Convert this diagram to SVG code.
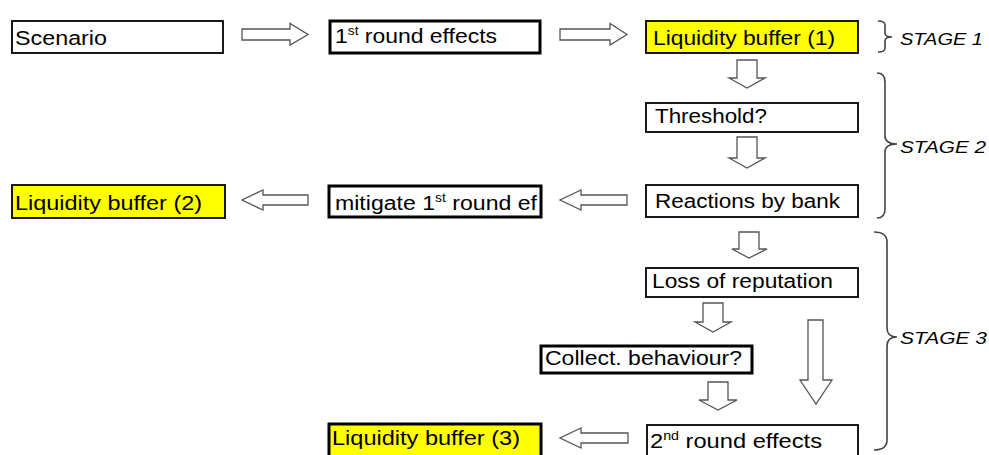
<svg xmlns="http://www.w3.org/2000/svg" width="989" height="455" viewBox="0 0 989 455">
<style>
.box{fill:#fff;stroke:#000;stroke-width:1.8}
.thick{stroke-width:3}
.yel{fill:#ffff00}
.t{font-family:"Liberation Sans",Arial,sans-serif;font-size:20px;fill:#000}
.sup{font-size:12px}
.stage{font-family:"Liberation Sans",Arial,sans-serif;font-size:17px;font-style:italic;fill:#000}
.arr{fill:#fff;stroke:#555;stroke-width:1.3;stroke-linejoin:miter}
.brace{fill:none;stroke:#444;stroke-width:1.6}
</style>
<rect width="989" height="455" fill="#fff"/>
<g id="scenario"><rect class="box" x="12" y="21" width="211" height="32"/><text class="t" x="15" y="45" textLength="92" lengthAdjust="spacingAndGlyphs">Scenario</text></g>
<g id="first-round"><rect class="box thick" x="330" y="21" width="210" height="32"/><text class="t" x="335" y="43" textLength="162" lengthAdjust="spacingAndGlyphs">1<tspan class="sup" dy="-8">st</tspan><tspan dy="8"> round effects</tspan></text></g>
<g id="lb1"><rect class="box yel" x="646" y="21" width="212" height="32"/><text class="t" x="653" y="45" textLength="182" lengthAdjust="spacingAndGlyphs">Liquidity buffer (1)</text></g>
<g id="threshold"><rect class="box" x="646" y="103" width="212" height="29"/><text class="t" x="655" y="123" textLength="112" lengthAdjust="spacingAndGlyphs">Threshold?</text></g>
<g id="reactions"><rect class="box" x="646" y="185" width="212" height="32"/><text class="t" x="655" y="208" textLength="185" lengthAdjust="spacingAndGlyphs">Reactions by bank</text></g>
<g id="lb2"><rect class="box yel" x="12" y="185" width="213" height="33"/><text class="t" x="15" y="210" textLength="187" lengthAdjust="spacingAndGlyphs">Liquidity buffer (2)</text></g>
<g id="mitigate"><rect class="box thick" x="329" y="186" width="212" height="31"/><text class="t" x="335" y="210" textLength="202" lengthAdjust="spacingAndGlyphs">mitigate 1<tspan class="sup" dy="-8">st</tspan><tspan dy="8"> round ef</tspan></text></g>
<g id="loss"><rect class="box" x="646" y="268" width="212" height="29"/><text class="t" x="652" y="288" textLength="181" lengthAdjust="spacingAndGlyphs">Loss of reputation</text></g>
<g id="collect"><rect class="box thick" x="541" y="346" width="211" height="27"/><text class="t" x="545" y="365" textLength="197" lengthAdjust="spacingAndGlyphs">Collect. behaviour?</text></g>
<g id="second-round"><rect class="box" x="647" y="425" width="211" height="40"/><text class="t" x="650" y="448" textLength="172" lengthAdjust="spacingAndGlyphs">2<tspan class="sup" dy="-8">nd</tspan><tspan dy="8"> round effects</tspan></text></g>
<g id="lb3"><rect class="box yel thick" x="329" y="424" width="212" height="40"/><text class="t" x="332" y="445" textLength="188" lengthAdjust="spacingAndGlyphs">Liquidity buffer (3)</text></g>
<g id="stages">
<path class="brace" d="M878,21 Q885,21 885,25 L885,33 Q885,37 892,37 Q885,37 885,41 L885,48 Q885,52 878,52"/>
<text class="stage" x="900" y="45" textLength="83" lengthAdjust="spacingAndGlyphs">STAGE 1</text>
<path class="brace" d="M877,73 Q885,73 885,82 L885,136 Q885,144 897,144 Q885,144 885,152 L885,209 Q885,218 877,218"/>
<text class="stage" x="900" y="153" textLength="86" lengthAdjust="spacingAndGlyphs">STAGE 2</text>
<path class="brace" d="M874,232 Q887,232 887,242 L887,328 Q887,337 897,337 Q887,337 887,346 L887,440 Q887,450 874,450"/>
<text class="stage" x="900" y="344" textLength="87" lengthAdjust="spacingAndGlyphs">STAGE 3</text>
</g>
<g id="connectors">
<path class="arr" d="M242,29 L290,29 L290,23.5 L308,34.5 L290,45 L290,40 L242,40 Z"/>
<path class="arr" d="M560,29 L610,29 L610,23.5 L627,34.5 L610,45 L610,40 L560,40 Z"/>
<path class="arr" d="M308,195 L263,195 L263,190 L242,200 L263,210 L263,205 L308,205 Z"/>
<path class="arr" d="M627,195 L581,195 L581,190 L560,200 L581,210 L581,205 L627,205 Z"/>
<path class="arr" d="M628,433 L581,433 L581,428 L560,438 L581,448 L581,443 L628,443 Z"/>
<path class="arr" d="M737,60 L757,60 L757,78 L765,78 L747,88 L729,78 L737,78 Z"/>
<path class="arr" d="M737,137 L757,137 L757,158 L765,158 L747,168 L729,158 L737,158 Z"/>
<path class="arr" d="M739,232 L759,232 L759,249 L767,249 L749,258 L732,249 L739,249 Z"/>
<path class="arr" d="M703,303 L723,303 L723,322 L731,322 L713,332 L695,322 L703,322 Z"/>
<path class="arr" d="M708,382 L728,382 L728,400 L737,400 L718,410 L699,400 L708,400 Z"/>
<path class="arr" d="M808,320 L823,320 L823,380 L832,380 L816,404 L800,380 L808,380 Z"/>
</g>
</svg>
